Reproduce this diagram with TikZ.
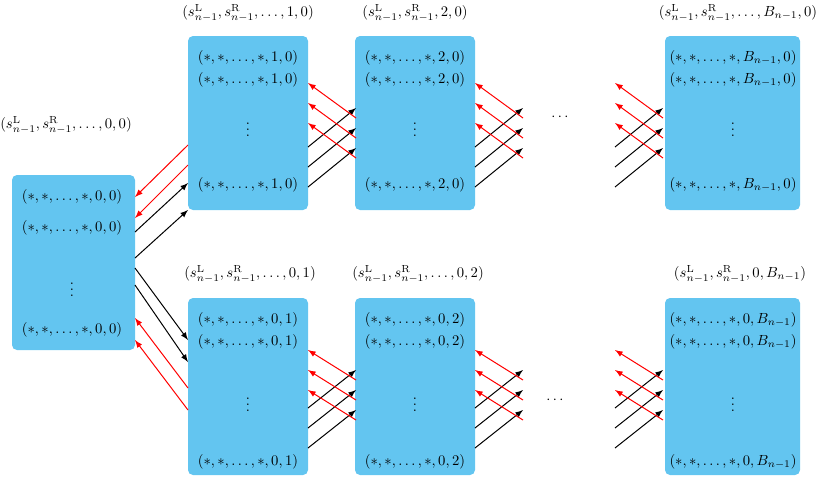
\documentclass[tikz,border=0pt]{standalone}
\begin{document}
\begin{tikzpicture}[x=0.6pt,y=-0.6pt,
  box/.style={fill=boxc,draw=none,rounded corners=3pt,inner sep=0pt},
  blk/.style={-latex,black,line width=0.6pt},
  rd/.style={-latex,red,line width=0.6pt},
  t/.style={inner sep=0pt,anchor=center,scale=0.88}]
\definecolor{boxc}{HTML}{63C5F0}
\useasboundingbox (0,0) rectangle (830,480);
% boxes
\newcommand{\bx}[5]{\path[box] (#2,#3) rectangle (#4,#5); \coordinate (#1) at (#2,#3);}
\bx{L}{12}{175}{135}{350}
\bx{T1}{188}{36}{308}{210}
\bx{T2}{355}{36}{475}{210}
\bx{T3}{665}{36}{800}{210}
\bx{B1}{188}{298}{308}{475}
\bx{B2}{355}{298}{475}{475}
\bx{B3}{665}{298}{800}{475}
% labels
\node[t] (lL) at (66,125) {$(s^{\mathrm{L}}_{n-1},s^{\mathrm{R}}_{n-1},\ldots,0,0)$};
\node[t] (lT1) at (248,13) {$(s^{\mathrm{L}}_{n-1},s^{\mathrm{R}}_{n-1},\ldots,1,0)$};
\node[t] (lT2) at (415,13) {$(s^{\mathrm{L}}_{n-1},s^{\mathrm{R}}_{n-1},2,0)$};
\node[t] (lT3) at (738,13) {$(s^{\mathrm{L}}_{n-1},s^{\mathrm{R}}_{n-1},\ldots,B_{n-1},0)$};
\node[t] (lB1) at (250,274) {$(s^{\mathrm{L}}_{n-1},s^{\mathrm{R}}_{n-1},\ldots,0,1)$};
\node[t] (lB2) at (418,274) {$(s^{\mathrm{L}}_{n-1},s^{\mathrm{R}}_{n-1},\ldots,0,2)$};
\node[t] (lB3) at (740,274) {$(s^{\mathrm{L}}_{n-1},s^{\mathrm{R}}_{n-1},0,B_{n-1})$};
% left box rows
\node[t] (L1) at (72,197) {$(*,*,\ldots,*,0,0)$};
\node[t] (L2) at (72,228) {$(*,*,\ldots,*,0,0)$};
\node[t] (L3) at (72,285) {$\vdots$};
\node[t] (L4) at (72,330) {$(*,*,\ldots,*,0,0)$};
% top rows
\foreach \n/\x/\v in {a/248/{1,0},b/415/{2,0},c/733/{B_{n-1},0}}{
  \node[t] (T\n1) at (\x,58) {$(*,*,\ldots,*,\v)$};
  \node[t] (T\n2) at (\x,80) {$(*,*,\ldots,*,\v)$};
  \node[t] (T\n3) at (\x,125) {$\vdots$};
  \node[t] (T\n4) at (\x,185) {$(*,*,\ldots,*,\v)$};
}
\foreach \n/\x/\v in {a/248/1,b/415/2,c/733/{B_{n-1}}}{
  \node[t] (Bn\n1) at (\x,320) {$(*,*,\ldots,*,0,\v)$};
  \node[t] (Bn\n2) at (\x,342) {$(*,*,\ldots,*,0,\v)$};
  \node[t] (Bn\n3) at (\x,400) {$\vdots$};
  \node[t] (Bn\n4) at (\x,462) {$(*,*,\ldots,*,0,\v)$};
}
\node[t] (d1) at (560,117) {$\cdots$};
\node[t] (d2) at (555,400) {$\cdots$};
% left <-> T1
\draw[blk] (135,232) -- (188,183);
\draw[blk] (135,258) -- (188,210);
\draw[rd] (188,145) -- (135,197);
\draw[rd] (188,165) -- (135,218);
% left <-> B1
\draw[blk] (135,268) -- (188,340);
\draw[blk] (135,285) -- (188,362);
\draw[rd] (188,388) -- (135,318);
\draw[rd] (188,410) -- (135,340);
% chains
\foreach \a in {308,475,615}{
  \foreach \k in {0,20,40}{
    \draw[blk] (\a,147+\k) -- (\a+48,108+\k);
    \draw[rd] (\a+48,118+\k) -- (\a,83+\k);
    \draw[blk] (\a,408+\k) -- (\a+48,370+\k);
    \draw[rd] (\a+48,380+\k) -- (\a,350+\k);
  }
}
\end{tikzpicture}
\end{document}
